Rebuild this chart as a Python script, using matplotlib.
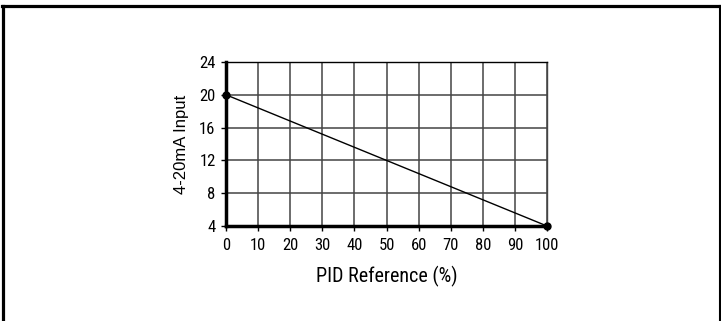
import matplotlib
matplotlib.use("Agg")
import matplotlib.pyplot as plt
from matplotlib.lines import Line2D

# data
pid_ref = [0, 100]
ma_input = [20, 4]
x_ticks = [0, 10, 20, 30, 40, 50, 60, 70, 80, 90, 100]
y_ticks = [4, 8, 12, 16, 20, 24]

narrow = ["Roboto Condensed", "DejaVu Sans"]
regular = ["Liberation Sans", "DejaVu Sans"]

W, H = 721, 321
fig = plt.figure(figsize=(W / 100, H / 100), dpi=100)
fig.patch.set_facecolor("white")

ax = fig.add_axes([226 / W, 1 - 226 / H, (547 - 226) / W, (226 - 62) / H])
ax.plot(pid_ref, ma_input, color="black", linewidth=1.0, marker="o",
        markersize=5, clip_on=False, zorder=5)

ax.set_xlim(0, 100)
ax.set_ylim(4, 24)
ax.set_xticks(x_ticks)
ax.set_yticks(y_ticks)
ax.set_xticklabels([str(v) for v in x_ticks], family=narrow, fontsize=12)
ax.set_yticklabels([str(v) for v in y_ticks], family=narrow, fontsize=12)
ax.tick_params(direction="out", length=3.5, width=1, color="black")
ax.tick_params(axis="x", pad=5)
ax.tick_params(axis="y", pad=4)
ax.grid(True, color="#444444", linewidth=1.1)
ax.set_axisbelow(True)

ax.spines["left"].set_linewidth(2.5)
ax.spines["bottom"].set_linewidth(2.5)
ax.spines["top"].set_linewidth(1.0)
ax.spines["right"].set_linewidth(1.0)
ax.spines["right"].set_color("#444444")

ax.set_xlabel("PID Reference (%)", family=narrow, fontsize=14.5)
ax.set_ylabel("4-20mA Input", family=regular, fontsize=12)
ax.xaxis.set_label_coords(0.5, -0.245)
ax.yaxis.set_label_coords(-0.115, 0.5)

# outer frame (top, left, right)
fig.add_artist(Line2D([3.5 / W, 3.5 / W], [0, 1 - 5.5 / H], color="black",
                      linewidth=2.3, transform=fig.transFigure))
fig.add_artist(Line2D([2 / W, 1], [1 - 5.5 / H, 1 - 5.5 / H], color="black",
                      linewidth=2.3, transform=fig.transFigure))
fig.add_artist(Line2D([720 / W, 720 / W], [0, 1 - 5.5 / H], color="black",
                      linewidth=1.5, transform=fig.transFigure))

fig.savefig("out.png", dpi=100, facecolor="white")
